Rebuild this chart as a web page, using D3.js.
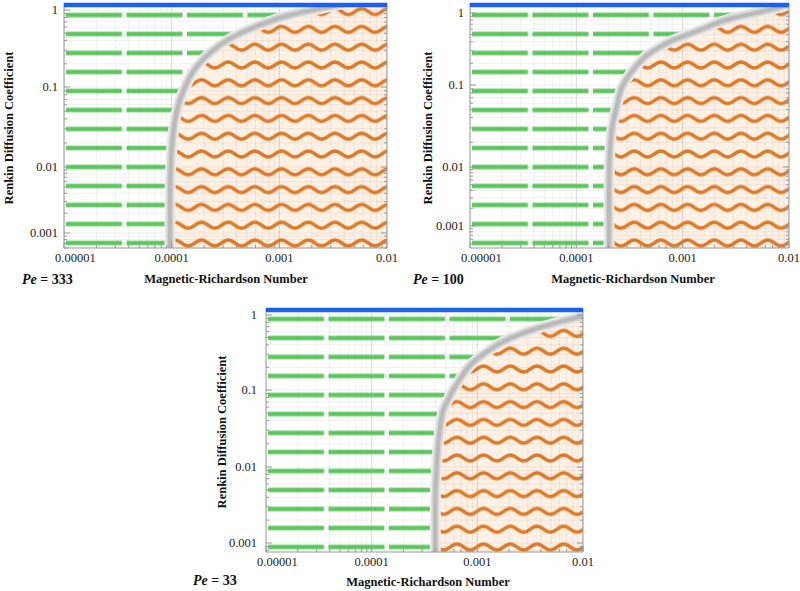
<!DOCTYPE html>
<html>
<head>
<meta charset="utf-8">
<style>
  html, body { margin: 0; padding: 0; background: #fff; overflow: hidden; }
  svg { display: block; }
</style>
</head>
<body>
<svg width="800" height="591"></svg>
<script src="https://d3js.org/d3.v7.min.js"></script>
<script>
// axes
const xDomain = [1e-5, 1e-2];
const xTickValues = [1e-5, 1e-4, 1e-3, 1e-2];
const xTickLabels = ["0.00001", "0.0001", "0.001", "0.01"];
const yTickValues = [0.001, 0.01, 0.1, 1];
const yTickLabels = ["0.001", "0.01", "0.1", "1"];

// Pe = 333 : neutral curve (Ri, D)
const yDomain333 = [0.0006, 0.001, 0.01, 0.1, 1, 1.23];
const ri333 = [0.965e-4, 0.965e-4, 0.986e-4, 1.029e-4, 1.097e-4, 1.195e-4, 1.359e-4, 1.578e-4, 2.27e-4, 3.71e-4, 6.61e-4, 1.256e-3, 2.544e-3, 3.43e-3, 4.07e-3];
const d333  = [0.0006, 0.00316, 0.0122, 0.0251, 0.0447, 0.0688, 0.1065, 0.157, 0.277, 0.446, 0.639, 0.861, 1.06, 1.16, 1.23];

// Pe = 100
const yDomain100 = [0.00043, 0.001, 0.01, 0.1, 1, 1.38];
const ri100 = [2.03e-4, 2.03e-4, 2.07e-4, 2.19e-4, 2.38e-4, 2.75e-4, 3.41e-4, 4.93e-4, 7.12e-4, 1.456e-3, 2.974e-3, 5.34e-3, 8.23e-3, 1e-2];
const d100  = [0.00043, 0.00496, 0.0161, 0.0325, 0.0524, 0.1, 0.1617, 0.278, 0.383, 0.58, 0.852, 1.032, 1.21, 1.31];

// Pe = 33
const yDomain33 = [0.00076, 0.001, 0.01, 0.1, 1, 1.24];
const ri33 = [4.0e-4, 4.0e-4, 4.1e-4, 4.68e-4, 5.44e-4, 6.77e-4, 8.97e-4, 1.30e-3, 1.88e-3, 3.3e-3, 5.94e-3, 9.2e-3, 1e-2];
const d33  = [0.00076, 0.003, 0.0091, 0.0503, 0.081, 0.136, 0.229, 0.341, 0.464, 0.631, 0.806, 0.94, 0.97];

const panels = [
  { pe: "333", ri: ri333, d: d333, yDomain: yDomain333,
    xRange: [64, 387], yRange: [248, 233, 167, 87, 10, 3],
    yTitle: [13, 128], xTitle: [226, 283], peAt: [22, 284], yGap: 6, xLabelY: 262 },
  { pe: "100", ri: ri100, d: d100, yDomain: yDomain100,
    xRange: [470, 789], yRange: [248, 226, 167, 85, 13, 3],
    yTitle: [432, 128], xTitle: [633, 283], peAt: [413, 284], yGap: 6, xLabelY: 262 },
  { pe: "33", ri: ri33, d: d33, yDomain: yDomain33,
    xRange: [266, 583], yRange: [552, 543, 467, 390, 315, 308],
    yTitle: [226, 432], xTitle: [428, 586], peAt: [193, 585], yGap: 9, xLabelY: 566 }
];

const serif = "Liberation Serif, DejaVu Serif, serif";

const svg = d3.select("svg");
const defs = svg.append("defs");

const minorTicks = (lo, hi) => {
  const out = [];
  for (let e = -6; e <= 1; e++) for (let k = 1; k <= 9; k++) {
    const v = k * Math.pow(10, e);
    if (v >= lo * 0.9999 && v <= hi * 1.0001) out.push(v);
  }
  return out;
};

panels.forEach((p, i) => {
  const x = d3.scaleLog().domain(xDomain).range(p.xRange);
  const y = d3.scaleLog().domain(p.yDomain).range(p.yRange);
  const [x0, x1] = p.xRange;
  const yBot = p.yRange[0], yTop = p.yRange[p.yRange.length - 1];

  const g = svg.append("g");

  // clip to plot rect
  defs.append("clipPath").attr("id", "plot" + i)
    .append("rect").attr("x", x0).attr("y", yTop).attr("width", x1 - x0).attr("height", yBot - yTop);

  // hatch patterns
  const gp = defs.append("pattern").attr("id", "green" + i)
    .attr("patternUnits", "userSpaceOnUse")
    .attr("x", x0 + 2).attr("y", yBot - 5 - 9.5)
    .attr("width", 60.5).attr("height", 19);
  gp.append("rect").attr("x", 0).attr("y", 7.3).attr("width", 56).attr("height", 4.4).attr("fill", "#5bc65b");

  const lam = 26.7, ph = 17.8, amp = 2.9;
  const op = defs.append("pattern").attr("id", "orange" + i)
    .attr("patternUnits", "userSpaceOnUse")
    .attr("x", x0 + 4).attr("y", yBot - 5 - ph / 2)
    .attr("width", lam).attr("height", ph);
  op.append("path")
    .attr("d", d3.line()(d3.range(0, lam + 0.25, 0.25).map(t => [t, ph / 2 - amp * Math.cos(2 * Math.PI * t / lam)])))
    .attr("fill", "none").attr("stroke", "#de7a26").attr("stroke-width", 3.5);

  const pts = d3.zip(p.ri, p.d);
  const line = d3.line().x(d => x(d[0])).y(d => y(d[1])).curve(d3.curveMonotoneY);
  const last = pts[pts.length - 1];
  const yLast = Math.max(yTop, y(last[1]));

  const unstable = line(pts) + `L${x1},${yLast}L${x1},${yBot}Z`;
  const stable = `M${x0},${yBot}L${x0},${yTop}L${x1},${yTop}L${x1},${yLast}` +
    line(pts.slice().reverse()).replace(/^M/, "L") + "Z";

  const plot = g.append("g").attr("clip-path", `url(#plot${i})`);

  plot.append("path").attr("d", unstable).attr("fill", "#fdf0e4");

  // gridlines
  const grid = plot.append("g").attr("stroke", "#000").attr("stroke-opacity", 0.07).attr("stroke-width", 0.8);
  grid.selectAll(".gx").data(minorTicks(xDomain[0], xDomain[1])).join("line")
    .attr("x1", d => x(d)).attr("x2", d => x(d)).attr("y1", yTop).attr("y2", yBot);
  grid.selectAll(".gy").data(minorTicks(p.yDomain[0], p.yDomain[p.yDomain.length - 1])).join("line")
    .attr("y1", d => y(d)).attr("y2", d => y(d)).attr("x1", x0).attr("x2", x1);
  grid.selectAll(".gxm").data(xTickValues).join("line")
    .attr("x1", d => x(d)).attr("x2", d => x(d)).attr("y1", yTop).attr("y2", yBot)
    .attr("stroke-opacity", 0.12);

  plot.append("path").attr("d", stable).attr("fill", `url(#green${i})`);
  plot.append("path").attr("d", unstable).attr("fill", `url(#orange${i})`);

  // neutral curve
  plot.append("path").attr("d", line(pts)).attr("fill", "none")
    .attr("stroke", "#ececec").attr("stroke-width", 11).attr("stroke-linecap", "round");
  plot.append("path").attr("d", line(pts)).attr("fill", "none")
    .attr("stroke", "#d4d4d4").attr("stroke-width", 7.5);
  plot.append("path").attr("d", line(pts)).attr("fill", "none")
    .attr("stroke", "#bababa").attr("stroke-width", 4);

  // frame
  const frame = g.append("g").attr("stroke", "#9a9a9a").attr("stroke-width", 1).attr("fill", "none");
  frame.append("path").attr("d", `M${x0},${yTop}V${yBot}H${x1}V${yTop}`);
  const yMin = minorTicks(p.yDomain[0], p.yDomain[p.yDomain.length - 1]);
  frame.selectAll(".ty").data(yMin).join("path")
    .attr("d", d => {
      const len = yTickValues.includes(d) ? 6 : 3;
      return `M${x0},${y(d)}h${len}M${x1},${y(d)}h${-len}`;
    });
  frame.selectAll(".tx").data(minorTicks(xDomain[0], xDomain[1])).join("path")
    .attr("d", d => `M${x(d)},${yBot}v${xTickValues.includes(d) ? -6 : -3}`);

  // blue top boundary
  g.append("line").attr("x1", x0).attr("x2", x1)
    .attr("y1", y(p.yDomain[p.yDomain.length - 1]) + 2).attr("y2", y(p.yDomain[p.yDomain.length - 1]) + 2)
    .attr("stroke", "#1a62ee").attr("stroke-width", 4.5);

  // tick labels
  g.selectAll(".xl").data(xTickValues).join("text")
    .attr("font-family", serif).attr("font-size", 12.5).attr("fill", "#222")
    .attr("x", (d, j) => j === 0 ? x(d) - 9 : x(d))
    .attr("y", p.xLabelY)
    .attr("text-anchor", (d, j) => j === 0 ? "start" : "middle")
    .text((d, j) => xTickLabels[j]);
  g.selectAll(".yl").data(yTickValues).join("text")
    .attr("font-family", serif).attr("font-size", 12.5).attr("fill", "#222")
    .attr("x", x0 - p.yGap)
    .attr("y", d => y(d) + 4)
    .attr("text-anchor", "end")
    .text((d, j) => yTickLabels[j]);

  // titles
  g.append("text")
    .attr("font-family", serif).attr("font-size", 12.5).attr("font-weight", "bold").attr("fill", "#111")
    .attr("transform", `translate(${p.yTitle[0]},${p.yTitle[1]}) rotate(-90)`)
    .attr("text-anchor", "middle")
    .text("Renkin Diffusion Coefficient");
  g.append("text")
    .attr("font-family", serif).attr("font-size", 12.5).attr("font-weight", "bold").attr("fill", "#111")
    .attr("x", p.xTitle[0]).attr("y", p.xTitle[1])
    .attr("text-anchor", "middle")
    .text("Magnetic-Richardson Number");
  const pe = g.append("text")
    .attr("font-family", serif).attr("font-size", 14).attr("font-weight", "bold").attr("fill", "#111")
    .attr("x", p.peAt[0]).attr("y", p.peAt[1]);
  pe.append("tspan").attr("font-style", "italic").text("Pe");
  pe.append("tspan").text(" = " + p.pe);
});
</script>
</body>
</html>
